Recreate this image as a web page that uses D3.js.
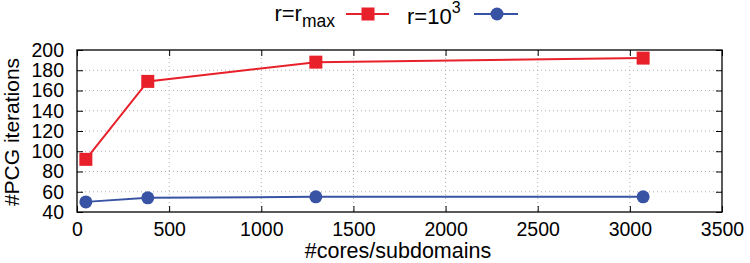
<!DOCTYPE html>
<html>
<head>
<meta charset="utf-8">
<script src="https://cdn.jsdelivr.net/npm/d3@7"></script>
<style>
  body { margin: 0; background: #fff; }
  text { font-family: "Liberation Sans", Arial, sans-serif; }
</style>
</head>
<body>
<div id="chart"></div>
<script>
// data
var cores = [48, 384, 1296, 3072];
var itersRmax = [92, 169, 188, 192];
var iters1e3 = [50, 54, 55, 55];
var xTicks = [0, 500, 1000, 1500, 2000, 2500, 3000, 3500];
var yTicks = [40, 60, 80, 100, 120, 140, 160, 180, 200];

var svgWidth = 750;
var svgHeight = 263;

var margin = { top: 50, right: 28, bottom: 51, left: 77 };
var chartWidth = svgWidth - margin.left - margin.right;
var chartHeight = svgHeight - margin.top - margin.bottom;

var svg = d3.select("#chart")
  .append("svg")
  .attr("width", svgWidth)
  .attr("height", svgHeight);

var chartGroup = svg.append("g")
  .attr("transform", `translate(${margin.left}, ${margin.top})`);

var x = d3.scaleLinear().domain([0, 3500]).range([0, chartWidth]);
var y = d3.scaleLinear().domain([40, 200]).range([chartHeight, 0]);

// grid
chartGroup.append("g").selectAll("line")
  .data(yTicks.slice(1, -1))
  .enter().append("line")
  .attr("x1", 0).attr("x2", chartWidth)
  .attr("y1", d => y(d)).attr("y2", d => y(d))
  .attr("stroke", "#b0b0b0").attr("stroke-dasharray", "1,3");
chartGroup.append("g").selectAll("line")
  .data(xTicks.slice(1, -1))
  .enter().append("line")
  .attr("y1", 0).attr("y2", chartHeight)
  .attr("x1", d => x(d)).attr("x2", d => x(d))
  .attr("stroke", "#b0b0b0").attr("stroke-dasharray", "1,3");

// axes (inward ticks, mirrored)
var fs = "19.5px";
var xAxisB = chartGroup.append("g")
  .attr("transform", `translate(0, ${chartHeight})`)
  .call(d3.axisBottom(x).tickValues(xTicks).tickSize(-6).tickPadding(10).tickFormat(d3.format("d")));
var yAxisL = chartGroup.append("g")
  .call(d3.axisLeft(y).tickValues(yTicks).tickSize(-6).tickPadding(13));
var xAxisT = chartGroup.append("g")
  .call(d3.axisTop(x).tickValues(xTicks).tickSize(-6).tickFormat(""));
var yAxisR = chartGroup.append("g")
  .attr("transform", `translate(${chartWidth}, 0)`)
  .call(d3.axisRight(y).tickValues(yTicks).tickSize(-6).tickFormat(""));

[xAxisB, yAxisL, xAxisT, yAxisR].forEach(function(g) {
  g.select(".domain").remove();
  g.selectAll("line").attr("stroke", "#000");
  g.selectAll("text").style("font-size", fs).attr("fill", "#000");
});

chartGroup.append("rect")
  .attr("width", chartWidth).attr("height", chartHeight)
  .attr("fill", "none").attr("stroke", "#000").attr("stroke-width", 1.3);

// series
var red = "#e8202a";
var blue = "#3953a4";
var line = d3.line().x(d => x(d[0])).y(d => y(d[1]));

chartGroup.append("path")
  .datum(d3.zip(cores, itersRmax))
  .attr("d", line).attr("fill", "none").attr("stroke", red).attr("stroke-width", 2);
chartGroup.append("path")
  .datum(d3.zip(cores, iters1e3))
  .attr("d", line).attr("fill", "none").attr("stroke", blue).attr("stroke-width", 2);

chartGroup.selectAll(".sq")
  .data(d3.zip(cores, itersRmax))
  .enter().append("rect")
  .attr("x", d => x(d[0]) - 6.5).attr("y", d => y(d[1]) - 6.5)
  .attr("width", 13).attr("height", 13)
  .attr("fill", red);
chartGroup.selectAll(".dot")
  .data(d3.zip(cores, iters1e3))
  .enter().append("circle")
  .attr("cx", d => x(d[0])).attr("cy", d => y(d[1]))
  .attr("r", 6.5)
  .attr("fill", blue);

// axis labels
svg.append("text")
  .attr("x", 398)
  .attr("y", 258)
  .attr("text-anchor", "middle")
  .style("font-size", "21.5px")
  .text("#cores/subdomains");

svg.append("text")
  .attr("transform", `translate(19, ${margin.top + chartHeight / 2 + 1}) rotate(-90)`)
  .attr("text-anchor", "middle")
  .style("font-size", "21px")
  .text("#PCG iterations");

// legend
var legend = svg.append("g");
var t1 = legend.append("text")
  .attr("x", 335).attr("y", 21)
  .attr("text-anchor", "end")
  .style("font-size", "22px");
t1.append("tspan").text("r=r");
t1.append("tspan").attr("dy", 6).style("font-size", "17.5px").text("max");

legend.append("line")
  .attr("x1", 346).attr("x2", 389).attr("y1", 14).attr("y2", 14)
  .attr("stroke", red).attr("stroke-width", 2);
legend.append("rect")
  .attr("x", 368 - 6.5).attr("y", 14 - 6.5).attr("width", 13).attr("height", 13)
  .attr("fill", red);

var t2 = legend.append("text")
  .attr("x", 407).attr("y", 24)
  .style("font-size", "22px");
t2.append("tspan").text("r=10");
t2.append("tspan").attr("dy", -11).style("font-size", "16px").text("3");

legend.append("line")
  .attr("x1", 474).attr("x2", 518).attr("y1", 14).attr("y2", 14)
  .attr("stroke", blue).attr("stroke-width", 2);
legend.append("circle")
  .attr("cx", 497).attr("cy", 14).attr("r", 6.5)
  .attr("fill", blue);
</script>
</body>
</html>
